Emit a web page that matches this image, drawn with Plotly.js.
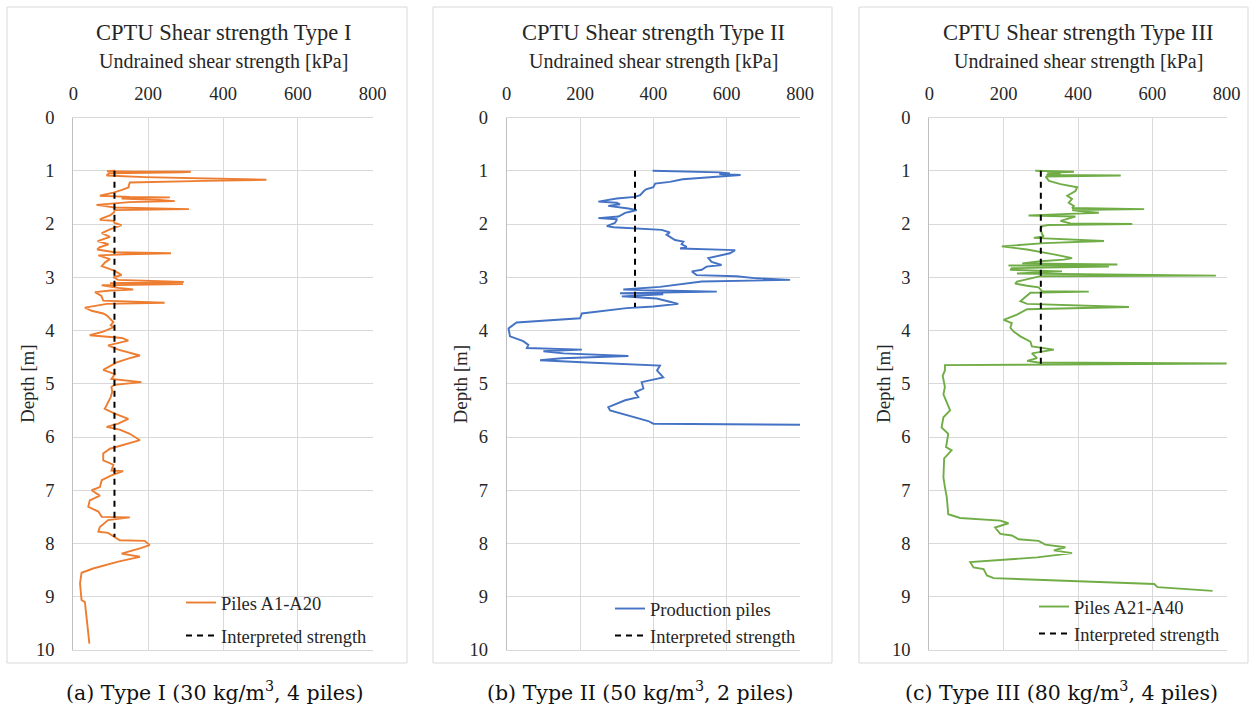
<!DOCTYPE html>
<html>
<head>
<meta charset="utf-8">
<script src="https://cdn.plot.ly/plotly-3.0.1.min.js"></script>
<style>
html,body{margin:0;padding:0;background:#fff;}
#chart{width:1255px;height:706px;}
</style>
</head>
<body>
<div id="chart"></div>
<script>
// ---------------- DATA ----------------
const panelTitles = ["CPTU Shear strength Type I", "CPTU Shear strength Type II", "CPTU Shear strength Type III"];
const captions = ["(a) Type I (30 kg/m<sup>3</sup>, 4 piles)", "(b) Type II (50 kg/m<sup>3</sup>, 2 piles)", "(c) Type III (80 kg/m<sup>3</sup>, 4 piles)"];
const seriesNames = ["Piles A1-A20", "Production piles", "Piles A21-A40"];
const interpName = "Interpreted strength";
const xTitle = "Undrained shear strength [kPa]";
const yTitle = "Depth [m]";

// Type I (depth [m], su [kPa])
const depthTypeI = [1.00,1.01,1.02,1.02,1.03,1.05,1.09,1.12,1.17,1.19,1.22,1.28,1.31,1.36,1.41,1.47,1.49,1.50,1.52,1.55,1.57,1.59,1.64,1.67,1.69,1.72,1.74,1.78,1.84,1.90,1.92,1.94,1.98,2.02,2.06,2.10,2.17,2.24,2.32,2.38,2.44,2.48,2.53,2.55,2.57,2.59,2.66,2.72,2.79,2.88,2.96,3.00,3.05,3.09,3.11,3.13,3.15,3.20,3.23,3.25,3.28,3.35,3.44,3.48,3.50,3.57,3.63,3.68,3.72,3.77,3.84,3.90,3.94,4.02,4.09,4.14,4.19,4.28,4.36,4.47,4.52,4.60,4.74,4.82,4.91,4.97,5.02,5.06,5.15,5.25,5.35,5.47,5.56,5.66,5.75,5.81,5.86,5.94,6.06,6.13,6.22,6.31,6.44,6.52,6.63,6.64,6.72,6.81,6.94,7.00,7.10,7.19,7.31,7.40,7.50,7.51,7.56,7.69,7.78,7.80,7.94,7.95,8.03,8.09,8.19,8.25,8.34,8.47,8.55,8.75,9.06,9.10,9.38,9.62,9.88];
const suTypeI    = [112,90,160,314,290,95,89,190,516,351,151,148,148,130,107,71,150,258,129,230,271,150,62,90,109,309,110,109,98,75,71,108,110,129,112,98,76,98,65,94,70,64,110,261,140,67,98,85,76,111,129,107,120,295,98,293,76,120,160,100,58,75,80,244,90,31,49,80,90,98,107,100,107,80,44,130,147,93,120,178,151,116,80,111,102,182,110,102,104,100,92,84,111,147,120,89,124,151,178,140,98,80,80,107,102,133,102,76,71,49,71,44,40,67,76,151,93,71,67,93,124,191,204,178,129,178,120,53,22,18,22,31,36,40,43];
const interpTypeI = {depth: [1.0, 7.88], su: [110, 110]};

// Type II
const depthTypeII = [1.00,1.02,1.03,1.05,1.06,1.08,1.11,1.16,1.21,1.24,1.31,1.35,1.39,1.46,1.49,1.52,1.58,1.60,1.63,1.66,1.71,1.74,1.77,1.79,1.86,1.89,1.91,1.93,1.98,2.04,2.06,2.09,2.11,2.16,2.20,2.30,2.33,2.38,2.43,2.46,2.49,2.55,2.64,2.71,2.77,2.80,2.86,2.89,2.96,2.98,3.02,3.05,3.08,3.18,3.23,3.25,3.27,3.30,3.32,3.36,3.40,3.46,3.50,3.55,3.58,3.68,3.77,3.85,3.96,4.11,4.20,4.27,4.33,4.36,4.39,4.43,4.48,4.52,4.56,4.60,4.66,4.75,4.88,4.97,5.09,5.16,5.25,5.31,5.44,5.50,5.63,5.70,5.75,5.77];
const suTypeII    = [398,560,582,609,580,638,573,480,445,405,400,380,373,364,350,300,250,300,309,277,332,355,336,323,305,250,300,300,295,273,291,382,423,445,436,459,482,477,491,473,623,609,550,559,586,545,532,505,518,627,682,773,532,418,318,420,573,309,427,314,409,445,468,400,327,205,200,27,5,9,45,59,55,205,100,155,332,150,91,220,418,410,427,368,373,350,359,323,277,282,350,386,400,800];
const interpTypeII = {depth: [1.0, 3.56], su: [350, 350]};

// Type III
const depthTypeIII = [1.00,1.01,1.02,1.04,1.06,1.08,1.09,1.11,1.19,1.25,1.31,1.38,1.47,1.53,1.60,1.66,1.70,1.72,1.74,1.77,1.79,1.82,1.84,1.86,1.94,1.99,2.00,2.02,2.04,2.10,2.20,2.23,2.26,2.32,2.36,2.42,2.45,2.48,2.57,2.64,2.67,2.70,2.74,2.76,2.78,2.80,2.83,2.86,2.89,2.93,2.97,2.98,3.08,3.12,3.16,3.19,3.26,3.27,3.29,3.36,3.45,3.50,3.56,3.60,3.70,3.80,3.86,3.95,4.02,4.11,4.21,4.30,4.36,4.43,4.52,4.57,4.60,4.62,4.64,4.65,4.75,4.85,5.06,5.20,5.50,5.63,5.82,5.94,6.19,6.25,6.40,6.76,6.94,7.13,7.45,7.52,7.57,7.62,7.70,7.82,7.85,7.92,7.95,8.02,8.07,8.13,8.18,8.26,8.35,8.45,8.48,8.60,8.65,8.76,8.82,8.89];
const suTypeIII    = [285,320,389,317,353,315,515,313,322,353,398,393,371,384,375,389,384,578,384,420,456,340,267,393,353,380,546,320,304,299,304,308,281,470,310,195,236,263,335,384,362,299,250,506,213,483,222,218,357,236,771,299,236,231,263,294,303,429,272,260,245,263,537,263,236,200,222,218,227,245,272,276,335,276,290,263,294,830,300,42,42,36,42,38,56,38,33,51,45,60,40,38,42,47,51,83,191,213,177,191,222,240,294,312,366,335,384,290,110,119,146,155,173,605,614,762];
const interpTypeIII = {depth: [1.0, 4.65], su: [300, 300]};

const xTicks = [0, 200, 400, 600, 800];
const yTicks = [0, 1, 2, 3, 4, 5, 6, 7, 8, 9, 10];

// ---------------- STYLE / LAYOUT ----------------
const W = 1255, H = 706;
const colors = ["#ED7D31", "#4472C4", "#70AD47"];
const FONT = '"Liberation Serif", "Times New Roman", serif';
const CAPFONT = '"DejaVu Serif", serif';
const TXT = "#262626";
const px = v => v / W;
const py = v => 1 - v / H;

const plotX = [[73.3, 372.7], [506.7, 800], [929.3, 1226.7]];
const plotY = [117.5, 650];
const frames = [[7, 407], [433, 832], [859, 1248]];
const legendPos = [[181, 584], [610, 590], [1034, 588]];
const legendGap = [6, 0, 0];

const depths = [depthTypeI, depthTypeII, depthTypeIII];
const sus = [suTypeI, suTypeII, suTypeIII];
const interps = [interpTypeI, interpTypeII, interpTypeIII];

const traces = [];
const layout = {
  width: W, height: H,
  margin: {l: 0, r: 0, t: 0, b: 0},
  paper_bgcolor: "#fff", plot_bgcolor: "#fff",
  showlegend: true,
  font: {family: FONT, color: TXT, size: 18},
  shapes: [], annotations: []
};

for (let i = 0; i < 3; i++) {
  const s = i === 0 ? "" : String(i + 1);
  const leg = i === 0 ? "legend" : "legend" + (i + 1);
  traces.push({
    x: sus[i], y: depths[i], type: "scatter", mode: "lines",
    name: seriesNames[i], xaxis: "x" + s, yaxis: "y" + s, legend: leg,
    legendgroup: "a" + i,
    line: {color: colors[i], width: 1.9}, hoverinfo: "skip"
  });
  traces.push({
    x: interps[i].su, y: interps[i].depth, type: "scatter", mode: "lines",
    name: interpName, xaxis: "x" + s, yaxis: "y" + s, legend: leg,
    legendgroup: "b" + i,
    line: {color: "#000", width: 2, dash: "6px,5px"}, hoverinfo: "skip"
  });

  layout["xaxis" + s] = {
    domain: [px(plotX[i][0]), px(plotX[i][1])],
    anchor: "y" + s, side: "top",
    range: [0, 800], tickvals: xTicks, ticktext: xTicks.map(String),
    showgrid: true, gridcolor: "#d9d9d9", gridwidth: 1,
    zeroline: false, showline: true, linecolor: "#d9d9d9", mirror: true,
    ticks: "", ticklabelstandoff: 9,
    tickfont: {family: FONT, size: 18.5, color: TXT}, fixedrange: true
  };
  layout["yaxis" + s] = {
    domain: [py(plotY[1]), py(plotY[0])],
    anchor: "x" + s,
    range: [10, 0], tickvals: yTicks, ticktext: yTicks.map(String),
    showgrid: true, gridcolor: "#d9d9d9", gridwidth: 1,
    zeroline: false, showline: true, linecolor: "#bfbfbf", mirror: false,
    ticks: "", ticklabelstandoff: 14,
    tickfont: {family: FONT, size: 18.5, color: TXT}, fixedrange: true
  };
  layout[leg] = {
    x: px(legendPos[i][0]), y: py(legendPos[i][1]), xanchor: "left", yanchor: "top",
    bgcolor: "rgba(255,255,255,0)", borderwidth: 0,
    font: {family: FONT, size: 18.5, color: TXT},
    tracegroupgap: legendGap[i], traceorder: "grouped"
  };

  // panel frame
  layout.shapes.push({
    type: "rect", xref: "paper", yref: "paper",
    x0: px(frames[i][0]), x1: px(frames[i][1]), y0: py(663), y1: py(7),
    line: {color: "#d9d9d9", width: 1}, fillcolor: "rgba(0,0,0,0)", layer: "below"
  });

  const cx = (plotX[i][0] + plotX[i][1]) / 2;
  layout.annotations.push({
    text: panelTitles[i], xref: "paper", yref: "paper",
    x: px(cx), y: py(33), xanchor: "center", yanchor: "middle",
    showarrow: false, font: {family: FONT, size: 22.5, color: TXT}
  });
  layout.annotations.push({
    text: xTitle, xref: "paper", yref: "paper",
    x: px(cx), y: py(61), xanchor: "center", yanchor: "middle",
    showarrow: false, font: {family: FONT, size: 20, color: TXT}
  });
  layout.annotations.push({
    text: yTitle, xref: "paper", yref: "paper",
    x: px(plotX[i][0] - 46), y: py((plotY[0] + plotY[1]) / 2), xanchor: "center", yanchor: "middle",
    textangle: -90, showarrow: false, font: {family: FONT, size: 19, color: TXT}
  });
  layout.annotations.push({
    text: captions[i], xref: "paper", yref: "paper",
    x: px((frames[i][0] + frames[i][1]) / 2 + 8), y: py(691), xanchor: "center", yanchor: "middle",
    showarrow: false, font: {family: CAPFONT, size: 20.5, color: "#111"}
  });
}

Plotly.newPlot("chart", traces, layout, {displayModeBar: false, staticPlot: true});
</script>
</body>
</html>
